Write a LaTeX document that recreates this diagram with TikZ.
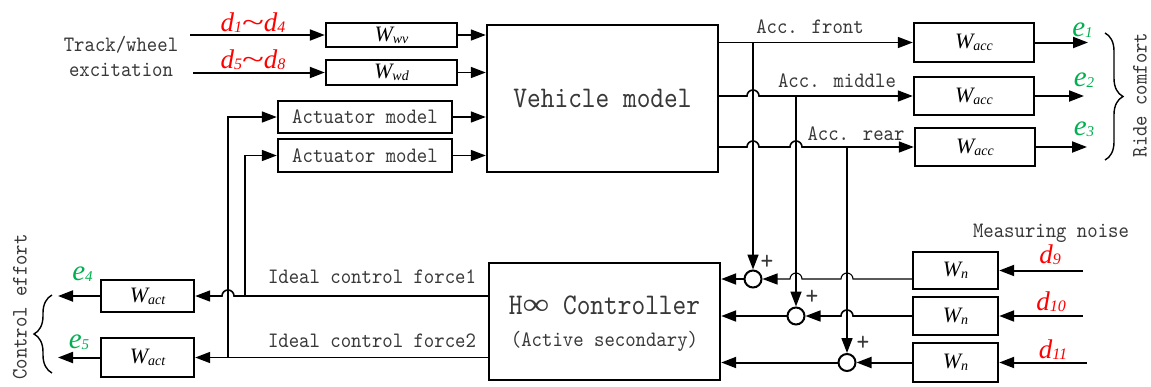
\documentclass[tikz,border=0pt]{standalone}
\usepackage{fontspec}
\usepackage{graphicx}
\setmainfont{Liberation Serif}
\newfontfamily\monofam[FakeStretch=0.9]{lmmono10-regular.otf}
\newfontfamily\bigmonofam[FakeStretch=0.87]{lmmono10-regular.otf}
\usetikzlibrary{arrows.meta,decorations.pathreplacing}
\definecolor{txtgray}{HTML}{383838}
\definecolor{dred}{HTML}{FF0000}
\definecolor{egreen}{HTML}{00B050}

% text faces
\newcommand{\monotext}{\monofam\fontsize{22}{25}\selectfont}
\newcommand{\bigmono}{\bigmonofam\fontsize{30}{33}\selectfont}
% weighting functions and signals
\newcommand{\wfun}[1]{{\fontsize{22}{24}\selectfont\itshape W\raisebox{-2pt}{\fontsize{14}{15}\selectfont #1}}}
\newcommand{\dsig}[1]{{\fontsize{27}{29}\selectfont\itshape d\raisebox{-1pt}{\fontsize{16}{17}\selectfont #1}}}
\newcommand{\esig}[1]{{\fontsize{29}{31}\selectfont\itshape e\raisebox{-1pt}{\fontsize{15}{16}\selectfont #1}}}
\newcommand{\wavy}{{\fontsize{27}{29}\selectfont\scalebox{1.5}[1]{\textasciitilde}}}
\newcommand{\infsym}{{\rmfamily\upshape\fontsize{30}{33}\selectfont\scalebox{1.25}[1]{∞}}}

\begin{document}
\begin{tikzpicture}[x=1pt,y=1pt,yscale=-1,
  box/.style={draw, line width=2.4pt, inner sep=0pt},
  wire/.style={line width=1.6pt},
  thinwire/.style={line width=1.1pt},
  arr/.style={wire, -{Triangle[length=15pt,width=11pt]}},
  sumnode/.style={circle, draw, line width=2pt, minimum size=17pt, inner sep=0pt},
  lbl/.style={text=txtgray, font=\monotext, inner sep=0pt},
  plus/.style={text=txtgray, font=\monofam\fontsize{27}{29}\selectfont, inner sep=0pt},
  brc/.style={line width=1.4pt, decorate, decoration={brace, amplitude=18pt}}]

\useasboundingbox (0,0) rectangle (1151,386);

% ---- blocks ----
\node[box, minimum width=131pt, minimum height=24pt] (wwv) at (391.5,35) {\wfun{wv}};
\node[box, minimum width=131pt, minimum height=25pt] (wwd) at (391.5,72.5) {\wfun{wd}};
\node[box, minimum width=174pt, minimum height=32pt, text=txtgray, font=\monotext] (act1) at (365,117) {Actuator model};
\node[box, minimum width=174pt, minimum height=33pt, text=txtgray, font=\monotext] (act2) at (365,155.5) {Actuator model};
\node[box, minimum width=231pt, minimum height=147pt, text=txtgray, font=\bigmono] (vm) at (602.5,98.5) {Vehicle model};
\node[box, minimum width=231pt, minimum height=117pt] (ctrl) at (604.5,321.5) {};
\node[anchor=base, text=txtgray, font=\bigmono, inner sep=0pt] (ctrltitle) at (604.5,314) {H\infsym{} Controller};
\node[anchor=base, lbl] (ctrlsub) at (604.5,346) {(Active secondary)};

\node[box, minimum width=120pt, minimum height=39pt] (wacc1) at (974,42.5) {\wfun{acc}};
\node[box, minimum width=120pt, minimum height=38pt] (wacc2) at (974,96) {\wfun{acc}};
\node[box, minimum width=120pt, minimum height=38pt] (wacc3) at (975,147) {\wfun{acc}};

\node[box, minimum width=85pt, minimum height=37pt] (wn1) at (955.5,270.5) {\wfun{n}};
\node[box, minimum width=85pt, minimum height=38pt] (wn2) at (955.5,316) {\wfun{n}};
\node[box, minimum width=85pt, minimum height=39pt] (wn3) at (955.5,362.5) {\wfun{n}};

\node[box, minimum width=93pt, minimum height=32pt] (wact1) at (147.5,296) {\wfun{act}};
\node[box, minimum width=93pt, minimum height=39pt] (wact2) at (147.5,357.5) {\wfun{act}};

\node[sumnode] (s1) at (753,279) {};
\node[sumnode] (s2) at (796,316) {};
\node[sumnode] (s3) at (847,362.5) {};

% ---- free ends and junctions ----
\coordinate (in1) at (190,35);
\coordinate (in2) at (193,72.5);
\coordinate (out1) at (1088,42.5);
\coordinate (out2) at (1084,96);
\coordinate (out3) at (1087,147);
\coordinate (n9) at (1083,270.5);
\coordinate (n10) at (1083,316);
\coordinate (n11) at (1087,362.5);
\coordinate (o4) at (58,296);
\coordinate (o5) at (58,357.5);
\coordinate (jf) at (753,42.5);
\coordinate (jm) at (796,96);
\coordinate (jr) at (847,147);
\coordinate (jA) at (245,296);
\coordinate (jB) at (228,357.5);

% ---- excitation inputs ----
\draw[arr, line width=2pt] (in1) -- (wwv);
\draw[arr, line width=2pt] (in2) -- (wwd);
\draw[arr] (wwv) -- (wwv -| vm.west);
\draw[arr] (wwd) -- (wwd -| vm.west);
\draw[arr] (act1) -- (act1 -| vm.west);
\draw[arr] (act2) -- (act2 -| vm.west);

% ---- accelerations ----
\draw[arr] (vm.east |- wacc1) -- (wacc1);
\draw[arr] (vm.east |- wacc2) -- ([xshift=-6pt]jf |- wacc2)
  arc[start angle=180, end angle=360, radius=6pt] -- (wacc2);
\draw[arr] (vm.east |- wacc3) -- ([xshift=-6pt]jf |- wacc3)
  arc[start angle=180, end angle=360, radius=6pt] -- ([xshift=-6pt]jm |- wacc3)
  arc[start angle=180, end angle=360, radius=6pt] -- (wacc3);
\draw[arr] (jf) -- (s1);
\draw[arr] (jm) -- (s2);
\draw[arr] (jr) -- (s3);
\draw[arr, line width=2pt] (wacc1) -- (out1);
\draw[arr, line width=2pt] (wacc2) -- (out2);
\draw[arr, line width=2pt] (wacc3) -- (out3);

% ---- measurement noise ----
\draw[arr, line width=2pt] (n9) -- (wn1);
\draw[arr, line width=2pt] (n10) -- (wn2);
\draw[arr, line width=2pt] (n11) -- (wn3);
\draw[arr, thinwire] (wn1.west |- s1) -- ([xshift=6pt]jr |- s1)
  arc[start angle=0, end angle=-180, radius=6pt] -- ([xshift=6pt]jm |- s1)
  arc[start angle=0, end angle=-180, radius=6pt] -- (s1);
\draw[arr] (wn2) -- ([xshift=6pt]jr |- s2)
  arc[start angle=0, end angle=-180, radius=6pt] -- (s2);
\draw[arr, line width=2pt] (wn3) -- (s3);
\draw[arr, line width=2pt] (s1) -- (s1 -| ctrl.east);
\draw[arr, line width=2pt] (s2) -- (s2 -| ctrl.east);
\draw[arr, line width=2pt] (s3) -- (s3 -| ctrl.east);

% ---- control forces ----
\draw[arr] (ctrl.west |- wact1) -- ([xshift=6pt]jB |- wact1)
  arc[start angle=0, end angle=-180, radius=6pt] -- (wact1);
\draw[arr] (ctrl.west |- wact2) -- (wact2);
\draw[arr] (jA) -- (jA |- act2) -- (act2);
\draw[arr] (jB) -- (jB |- act1) -- (act1);
\draw[arr, line width=2pt] (wact1) -- (o4);
\draw[arr, line width=2pt] (wact2) -- (o5);

% ---- braces ----
\draw[brc] (1105,33) -- (1105,160);
\draw[brc] (52,373) -- (52,295);

% ---- labels ----
\node[anchor=base, text=dred, inner sep=0pt] (dA) at (253,31) {\dsig{1}\wavy\dsig{4}};
\node[anchor=base, text=dred, inner sep=0pt] (dB) at (253,68) {\dsig{5}\wavy\dsig{8}};
\node[anchor=base, text=dred, inner sep=0pt] (d9) at (1050,263) {\dsig{9}};
\node[anchor=base, text=dred, inner sep=0pt] (d10) at (1051,310) {\dsig{10}};
\node[anchor=base, text=dred, inner sep=0pt] (d11) at (1053,358) {\dsig{11}};

\node[anchor=base, text=egreen, inner sep=0pt] (e1) at (1082.5,36) {\esig{1}};
\node[anchor=base, text=egreen, inner sep=0pt] (e2) at (1084,86) {\esig{2}};
\node[anchor=base, text=egreen, inner sep=0pt] (e3) at (1084,135) {\esig{3}};
\node[anchor=base, text=egreen, inner sep=0pt] (e4) at (82.5,280) {\esig{4}};
\node[anchor=base, text=egreen, inner sep=0pt] (e5) at (79,348) {\esig{5}};

\node[anchor=base, lbl] (tw1) at (121,51) {Track/wheel};
\node[anchor=base, lbl] (tw2) at (121,76) {excitation};
\node[anchor=base, lbl] (accf) at (810,33.5) {Acc. front};
\node[anchor=base, lbl] (accm) at (837,87) {Acc. middle};
\node[anchor=base, lbl] (accr) at (856,140) {Acc. rear};
\node[anchor=base, lbl] (icf1) at (372,283) {Ideal control force1};
\node[anchor=base, lbl] (icf2) at (372,347) {Ideal control force2};
\node[anchor=base, lbl] (mn) at (1051,237) {Measuring noise};
\node[lbl, rotate=90] (rc) at (1140,95) {Ride comfort};
\node[lbl, rotate=90] (ce) at (20,307) {Control effort};

\node[plus] (p1) at (767,262) {+};
\node[plus] (p2) at (812,297) {+};
\node[plus] (p3) at (863,343) {+};
\end{tikzpicture}
\end{document}
